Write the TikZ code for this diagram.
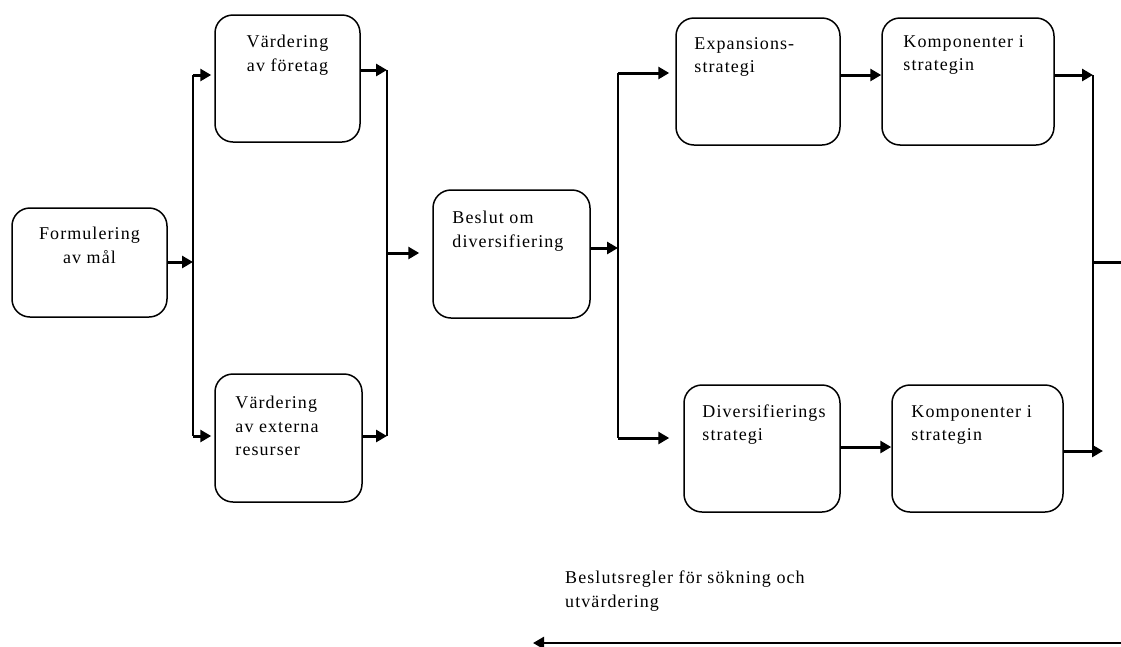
\documentclass[tikz,border=0pt]{standalone}
\usepackage{fontspec}
\setmainfont{Liberation Serif}[LetterSpace=6]
\usepackage{tikz}
\usetikzlibrary{positioning, arrows.meta, calc}

\begin{document}
\begin{tikzpicture}[
  x=1pt, y=-1pt,
  box/.style={draw, line width=1.5pt, rounded corners=18pt, inner sep=0pt},
  txt/.style={inner sep=0pt, align=left, font=\fontsize{18}{23.5}\selectfont},
  arr/.style={line width=3pt, -{Triangle[length=11pt,width=12pt]}},
  bus/.style={line width=1.8pt}
]
  \useasboundingbox (0,0) rectangle (1121,646);

  % Boxes
  \node[box, minimum width=155, minimum height=109] (form)   at (89.5,262.5) {};
  \node[box, minimum width=145, minimum height=127] (vfor)   at (287.5,78.5) {};
  \node[box, minimum width=147, minimum height=128] (vext)   at (288.5,438) {};
  \node[box, minimum width=157, minimum height=128] (beslut) at (511.5,254) {};
  \node[box, minimum width=164, minimum height=127] (expans) at (758,81.5) {};
  \node[box, minimum width=172, minimum height=127] (komp1)  at (968,81.5) {};
  \node[box, minimum width=156, minimum height=127] (divers) at (762,448.5) {};
  \node[box, minimum width=171, minimum height=127] (komp2)  at (977.5,448.5) {};

  % Texts in the boxes
  \node[txt, align=center, anchor=north] (form-t) at ([shift={(0,20)}]form.north)
    {Formulering\\av mål};
  \node[txt, align=center, anchor=north] (vfor-t) at ([shift={(0,21)}]vfor.north)
    {Värdering\\av företag};
  \node[txt, anchor=north west] (vext-t) at ([shift={(21,23)}]vext.north west)
    {Värdering\\av externa\\resurser};
  \node[txt, anchor=north west] (beslut-t) at ([shift={(20,22)}]beslut.north west)
    {Beslut om\\diversifiering};
  \node[txt, anchor=north west] (expans-t) at ([shift={(19,20)}]expans.north west)
    {Expansions-\\strategi};
  \node[txt, anchor=north west] (komp1-t) at ([shift={(22,18)}]komp1.north west)
    {Komponenter i\\strategin};
  \node[txt, anchor=north west] (divers-t) at ([shift={(19,20)}]divers.north west)
    {Diversifierings\\strategi};
  \node[txt, anchor=north west] (komp2-t) at ([shift={(20,21)}]komp2.north west)
    {Komponenter i\\strategin};

  % Junction points on the vertical lines
  \coordinate (j1)  at (193,262);
  \coordinate (j1a) at (193,75);
  \coordinate (j1b) at (193,436);
  \coordinate (j2a) at (387,70);
  \coordinate (j2b) at (387,436);
  \coordinate (j2c) at (387,253);
  \coordinate (j3)  at (618,248);
  \coordinate (j3a) at (618,73);
  \coordinate (j3b) at (618,438);
  \coordinate (j4a) at (1093,75);
  \coordinate (j4b) at (1093,451);
  \coordinate (j4c) at (1093,262);
  \coordinate (d2k) at (862,447);
  \coordinate (k2out) at (1103,451);
  \coordinate (edge) at (1121,262);

  % Vertical lines
  \foreach \a/\b in {j1a/j1b, j2a/j2b, j3a/j3b, j4a/j4b}{
    \draw[bus] (\a) -- (\b);
  }

  % Arrows
  \draw[arr] (form.east |- j1) -- (j1);
  \draw[arr, shorten >=3pt] (j1a) -- (j1a -| vfor.west);
  \draw[arr, shorten >=3pt] (j1b) -- (j1b -| vext.west);
  \draw[arr] (vfor.east |- j2a) -- (j2a);
  \draw[arr] (vext.east |- j2b) -- (j2b);
  \draw[arr, shorten >=13pt] (j2c) -- (j2c -| beslut.west);
  \draw[arr] (beslut.east |- j3) -- (j3);
  \draw[arr, shorten >=6pt] (j3a) -- (j3a -| expans.west);
  \draw[arr, shorten >=14pt] (j3b) -- (j3b -| divers.west);
  \draw[arr] (expans.east |- j4a) -- (komp1.west |- j4a);
  \draw[arr] (divers.east |- d2k) -- (komp2.west |- d2k);
  \draw[arr] (komp1.east |- j4a) -- (j4a);
  \draw[arr] (komp2.east |- k2out) -- (k2out);
  \draw[line width=3pt] (j4c) -- (edge);

  % Feedback arrow at the bottom
  \coordinate (fb-r) at (1121,643);
  \coordinate (fb-l) at (533,643);
  \draw[arr, line width=2.4pt] (fb-r) -- (fb-l);
  \node[txt, anchor=north west] (regler) at (565,571)
    {Beslutsregler för sökning och\\utvärdering};
\end{tikzpicture}
\end{document}
